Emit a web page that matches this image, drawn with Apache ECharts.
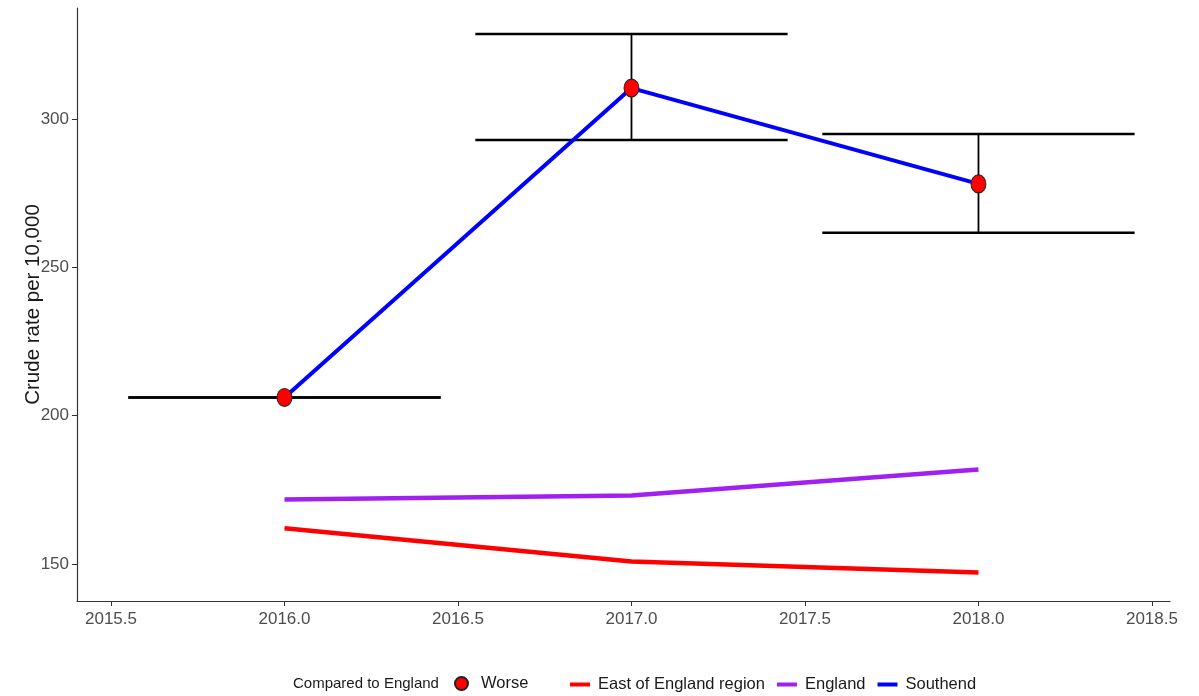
<!DOCTYPE html>
<html>
<head>
<meta charset="utf-8">
<script src="https://cdn.jsdelivr.net/npm/echarts@6/dist/echarts.min.js"></script>
<style>
  html, body { margin: 0; padding: 0; background: #ffffff; }
  #chart { width: 1199px; height: 696px; }
</style>
</head>
<body>
<div id="chart"></div>
<script>
// Crude rate per 10,000 by year
const years = [2016, 2017, 2018];
const southend = [206.1, 310.4, 278.1];
const southendLower = [206.1, 292.9, 261.6];
const southendUpper = [206.1, 328.6, 294.9];
const england = [171.7, 173.1, 181.8];
const eastOfEngland = [162.0, 150.8, 147.1];
const comparison = ['Worse', 'Worse', 'Worse'];
const xTicks = [2015.5, 2016.0, 2016.5, 2017.0, 2017.5, 2018.0, 2018.5];
const yTicks = [150, 200, 250, 300];

const FONT = '"Liberation Sans", Arial, sans-serif';
const BAR_HALF_WIDTH = 0.45;
const ELLIPSE = 'path://M0,-1A1,1,0,1,1,0,1A1,1,0,1,1,0,-1Z';

const pair = (xs, ys) => xs.map((x, i) => [x, ys[i]]);

const chart = echarts.init(document.getElementById('chart'), null, { renderer: 'canvas' });

chart.setOption({
  animation: false,
  backgroundColor: '#ffffff',
  grid: { left: 77, right: 29, top: 8, bottom: 95, containLabel: false },
  xAxis: {
    type: 'value',
    min: 2015.402,
    max: 2018.552,
    splitLine: { show: false },
    axisLine: { show: true, onZero: false, lineStyle: { color: '#333333', width: 1.2 } },
    axisTick: { show: true, length: 5, customValues: xTicks, lineStyle: { color: '#333333' } },
    axisLabel: {
      customValues: xTicks,
      formatter: v => Number(v).toFixed(1),
      color: '#4d4d4d',
      fontFamily: FONT,
      fontSize: 17,
      margin: 10
    }
  },
  yAxis: {
    type: 'value',
    min: 137.5,
    max: 337.4,
    name: 'Crude rate per 10,000',
    nameLocation: 'middle',
    nameGap: 33,
    nameRotate: 90,
    nameMoveOverlap: false,
    nameTextStyle: { color: '#1a1a1a', fontFamily: FONT, fontSize: 20.5 },
    splitLine: { show: false },
    axisLine: { show: true, onZero: false, lineStyle: { color: '#333333', width: 1.2 } },
    axisTick: { show: true, length: 5, customValues: yTicks, lineStyle: { color: '#333333' } },
    axisLabel: {
      customValues: yTicks,
      color: '#4d4d4d',
      fontFamily: FONT,
      fontSize: 17,
      margin: 8
    }
  },
  legend: [
    {
      left: 454,
      top: 675,
      padding: 0,
      itemWidth: 13,
      itemHeight: 16,
      itemGap: 10,
      textStyle: { color: '#1a1a1a', fontFamily: FONT, fontSize: 16.5, padding: [0, 0, 0, 8] },
      data: [{ name: 'Worse', icon: ELLIPSE }]
    },
    {
      left: 570,
      top: 676,
      padding: 0,
      itemWidth: 20,
      itemHeight: 4,
      itemGap: 12,
      textStyle: { color: '#1a1a1a', fontFamily: FONT, fontSize: 16.5, padding: [0, 0, 0, 3] },
      data: [
        { name: 'East of England region', icon: 'rect' },
        { name: 'England', icon: 'rect' },
        { name: 'Southend', icon: 'rect' }
      ]
    }
  ],
  graphic: [
    {
      type: 'text',
      left: 293,
      top: 676,
      style: { text: 'Compared to England', fill: '#1a1a1a', font: '15px ' + FONT }
    }
  ],
  series: [
    {
      name: 'Confidence interval',
      type: 'custom',
      z: 1,
      data: years.map((y, i) => [y, southendLower[i], southendUpper[i]]),
      renderItem: (params, api) => {
        const x = api.value(0);
        const lo = api.value(1);
        const hi = api.value(2);
        const top = api.coord([x, hi]);
        const bot = api.coord([x, lo]);
        const l = api.coord([x - BAR_HALF_WIDTH, hi])[0];
        const r = api.coord([x + BAR_HALF_WIDTH, hi])[0];
        const style = { stroke: '#000000', lineWidth: 2.5 };
        return {
          type: 'group',
          children: [
            { type: 'line', shape: { x1: l, y1: top[1], x2: r, y2: top[1] }, style },
            { type: 'line', shape: { x1: l, y1: bot[1], x2: r, y2: bot[1] }, style },
            { type: 'line', shape: { x1: top[0], y1: top[1], x2: bot[0], y2: bot[1] }, style: { stroke: '#000000', lineWidth: 1.8 } }
          ]
        };
      }
    },
    {
      name: 'East of England region',
      type: 'line',
      z: 2,
      data: pair(years, eastOfEngland),
      showSymbol: false,
      symbol: 'none',
      lineStyle: { color: '#ff0000', width: 4.5 },
      itemStyle: { color: '#ff0000' }
    },
    {
      name: 'England',
      type: 'line',
      z: 2,
      data: pair(years, england),
      showSymbol: false,
      symbol: 'none',
      lineStyle: { color: '#a020f0', width: 4.5 },
      itemStyle: { color: '#a020f0' }
    },
    {
      name: 'Southend',
      type: 'line',
      z: 3,
      data: pair(years, southend),
      showSymbol: false,
      symbol: 'none',
      lineStyle: { color: '#0000ff', width: 4 },
      itemStyle: { color: '#0000ff' }
    },
    {
      name: 'Worse',
      type: 'scatter',
      z: 4,
      data: years.map((y, i) => ({ value: [y, southend[i]], comparison: comparison[i] })),
      symbol: 'circle',
      symbolSize: [15, 18],
      itemStyle: { color: '#ff0000', borderColor: '#222222', borderWidth: 1, opacity: 1 }
    }
  ]
});
</script>
</body>
</html>
